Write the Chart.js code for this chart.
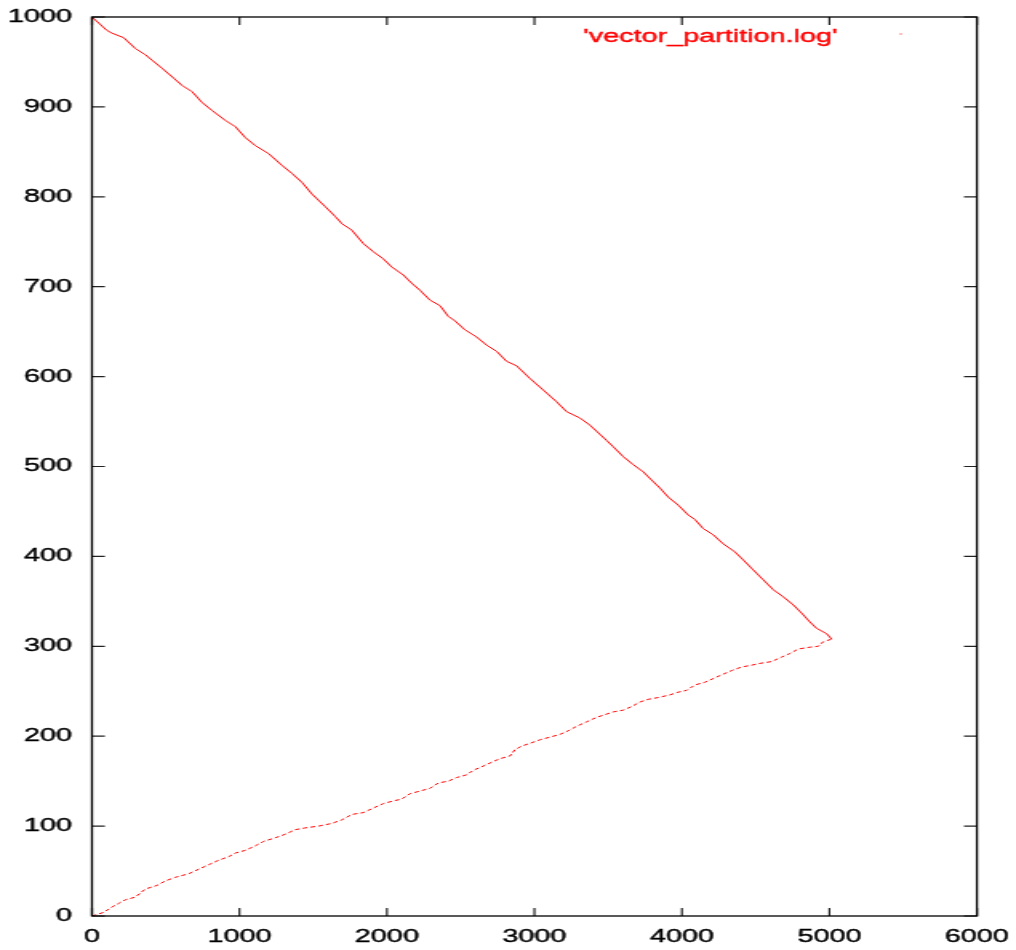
<!DOCTYPE html>
<html>
<head>
<meta charset="utf-8">
<title>vector_partition.log</title>
<script src="https://cdn.jsdelivr.net/npm/chart.js@4"></script>
<style>
  html, body { margin: 0; padding: 0; background: #fff; }
</style>
</head>
<body>
<!-- the plot is rendered narrow and widened on screen, like the old 640x480 output -->
<canvas id="plot" width="635" height="950" style="width:1016px;height:950px"></canvas>
<script>
var seriesLabel = "'vector_partition.log'";

// descending branch: starts at 1000 and runs down to the turn near 5000
var upperX = [0, 102, 136, 215, 294, 362, 407, 475, 554, 610, 678, 746, 814, 904, 972,
  1039, 1107, 1198, 1288, 1356, 1424, 1492, 1582, 1650, 1695, 1761, 1840, 1907, 1975,
  2032, 2111, 2167, 2224, 2292, 2359, 2416, 2461, 2529, 2608, 2676, 2744, 2811, 2879,
  2969, 3060, 3150, 3218, 3308, 3376, 3489, 3534, 3602, 3670, 3738, 3794, 3851, 3907,
  3975, 4043, 4088, 4144, 4212, 4280, 4359, 4416, 4483, 4551, 4619, 4687, 4755, 4811,
  4868, 4913, 4981, 5015];
var upperY = [1000, 985, 982, 977, 965, 958, 952, 943, 932, 924, 917, 905, 896, 885, 878,
  866, 857, 848, 835, 826, 816, 803, 789, 778, 770, 763, 748, 739, 731,
  722, 713, 704, 696, 685, 679, 667, 662, 652, 644, 635, 628, 617, 612,
  598, 585, 572, 561, 554, 546, 529, 522, 511, 502, 494, 485, 476, 466,
  457, 446, 441, 431, 424, 414, 405, 396, 385, 374, 363, 355, 346, 337,
  327, 320, 314, 308];

// rising branch: from 0 up to the same turn
var lowerX = [0, 79, 136, 181, 226, 294, 362, 441, 497, 565, 656, 723, 791, 859, 927, 972,
  1039, 1107, 1164, 1243, 1311, 1378, 1446, 1537, 1627, 1695, 1763, 1840, 1907, 1975,
  2043, 2099, 2156, 2224, 2292, 2348, 2416, 2472, 2540, 2585, 2642, 2710, 2766, 2834,
  2868, 2913, 2969, 3037, 3105, 3173, 3229, 3286, 3354, 3422, 3478, 3534, 3602, 3659,
  3715, 3771, 3839, 3919, 3975, 4032, 4088, 4156, 4224, 4280, 4337, 4405, 4473, 4529,
  4608, 4676, 4732, 4789, 4868, 4924, 4958, 5015];
var lowerY = [0, 4, 10, 14, 18, 21, 30, 34, 39, 43, 47, 52, 57, 62, 66, 70,
  73, 78, 83, 87, 91, 96, 98, 100, 103, 107, 113, 115, 120, 125,
  128, 130, 136, 139, 142, 148, 150, 154, 157, 162, 166, 171, 175, 178,
  185, 189, 192, 196, 199, 202, 206, 211, 216, 221, 224, 227, 229, 233,
  238, 241, 243, 246, 249, 251, 257, 260, 265, 269, 273, 277, 279, 281,
  283, 288, 292, 297, 299, 300, 305, 308];

var xTickValues = [0, 1000, 2000, 3000, 4000, 5000, 6000];
var yTickValues = [0, 100, 200, 300, 400, 500, 600, 700, 800, 900, 1000];

function toPoints(xs, ys) {
  var pts = [];
  for (var i = 0; i < xs.length; i++) {
    pts.push({x: xs[i], y: ys[i]});
  }
  return pts;
}

function plainNumber(value) {
  return String(value);
}

var RED = "rgb(255,0,0)";
var FONT = "Liberation Sans, Arial, Helvetica, sans-serif";

// frame round the plot plus inward ticks on all four sides
var framePlugin = {
  id: "frame",
  afterDraw: function (chart) {
    var ctx = chart.ctx;
    var a = chart.chartArea;
    var xs = chart.scales.x;
    var ys = chart.scales.y;
    ctx.save();
    ctx.strokeStyle = "#222";
    ctx.lineWidth = 1.2;
    ctx.beginPath();
    xTickValues.forEach(function (v) {
      var px = xs.getPixelForValue(v);
      ctx.moveTo(px, a.bottom); ctx.lineTo(px, a.bottom - 8);
      ctx.moveTo(px, a.top); ctx.lineTo(px, a.top + 8);
    });
    yTickValues.forEach(function (v) {
      var py = ys.getPixelForValue(v);
      ctx.moveTo(a.left, py); ctx.lineTo(a.left + 8.1, py);
      ctx.moveTo(a.right, py); ctx.lineTo(a.right - 8.1, py);
    });
    ctx.stroke();
    ctx.strokeStyle = "#000";
    ctx.lineWidth = 1.3;
    ctx.strokeRect(a.left, a.top, a.right - a.left, a.bottom - a.top);
    ctx.restore();
  }
};

// gnuplot style key: text first, sample after it
var keyPlugin = {
  id: "key",
  afterDraw: function (chart) {
    var ctx = chart.ctx;
    ctx.save();
    ctx.font = "18px " + FONT;
    ctx.fillStyle = RED;
    ctx.strokeStyle = RED;
    ctx.lineWidth = 0.4;
    ctx.textAlign = "right";
    ctx.textBaseline = "alphabetic";
    ctx.fillText(chart.data.datasets[0].label, 523.5, 41.5);
    ctx.strokeText(chart.data.datasets[0].label, 523.5, 41.5);
    ctx.fillRect(562.5, 33.5, 1, 1);
    ctx.restore();
  }
};

new Chart(document.getElementById("plot"), {
  type: "scatter",
  data: {
    datasets: [{
      label: seriesLabel,
      data: toPoints(upperX, upperY),
      showLine: true,
      borderColor: RED,
      backgroundColor: RED,
      borderWidth: 1,
      pointRadius: 0
    }, {
      label: seriesLabel,
      data: toPoints(lowerX, lowerY),
      showLine: true,
      borderColor: RED,
      backgroundColor: RED,
      borderWidth: 1,
      borderDash: [3, 2],
      pointRadius: 0
    }]
  },
  options: {
    responsive: false,
    animation: false,
    layout: { padding: { top: 17, right: 24.4, left: 0, bottom: 0 } },
    plugins: {
      legend: { display: false },
      tooltip: { enabled: false }
    },
    scales: {
      x: {
        type: "linear",
        min: 0,
        max: 6000,
        afterBuildTicks: function (scale) {
          scale.ticks = xTickValues.map(function (v) { return {value: v}; });
        },
        afterFit: function (scale) {
          scale.height = 34;
          scale.paddingLeft = 0;
          scale.paddingRight = 0;
        },
        grid: { display: false, drawTicks: false },
        border: { display: false },
        ticks: {
          color: "#000",
          padding: 10,
          maxRotation: 0,
          callback: plainNumber,
          textStrokeColor: "#000",
          textStrokeWidth: 0.4,
          font: { family: FONT, size: 18 }
        }
      },
      y: {
        type: "linear",
        min: 0,
        max: 1000,
        afterBuildTicks: function (scale) {
          scale.ticks = yTickValues.map(function (v) { return {value: v}; });
        },
        afterFit: function (scale) {
          scale.width = 57.5;
          scale.paddingTop = 0;
          scale.paddingBottom = 0;
        },
        grid: { display: false, drawTicks: false },
        border: { display: false },
        ticks: {
          color: "#000",
          padding: 12.5,
          callback: plainNumber,
          textStrokeColor: "#000",
          textStrokeWidth: 0.4,
          font: { family: FONT, size: 18 }
        }
      }
    }
  },
  plugins: [framePlugin, keyPlugin]
});
</script>
</body>
</html>
